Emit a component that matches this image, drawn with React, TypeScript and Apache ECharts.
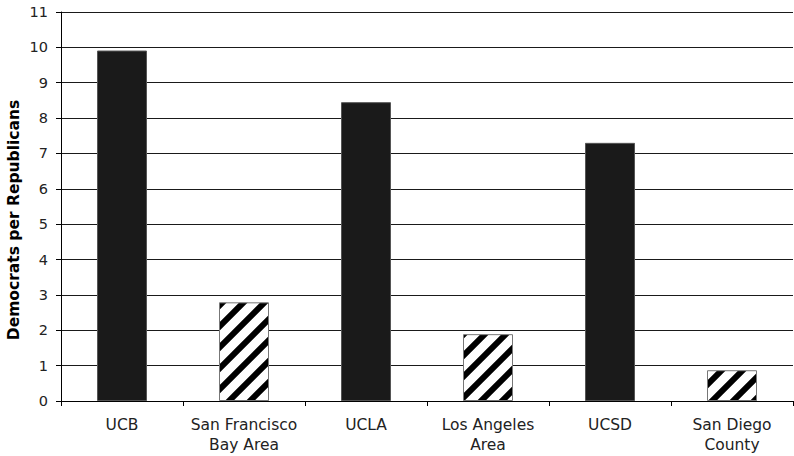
import React, { useEffect, useRef } from "react";
import * as echarts from "echarts";

const categories = [
  "UCB",
  "San Francisco\nBay Area",
  "UCLA",
  "Los Angeles\nArea",
  "UCSD",
  "San Diego\nCounty",
];
const values = [9.91, 2.79, 8.45, 1.89, 7.3, 0.87];
const hatched = [false, true, false, true, false, true];
const yTicks = { min: 0, max: 11, interval: 1 };
const yTitle = "Democrats per Republicans";

const T = 21;
const stripeSvg =
  `<svg xmlns="http://www.w3.org/2000/svg" width="${T}" height="${T}">` +
  `<rect width="${T}" height="${T}" fill="#ffffff"/>` +
  `<path d="M-6,6 L6,-6 M0,${T} L${T},0 M${T - 6},${T + 6} L${T + 6},${T - 6}" stroke="#000" stroke-width="6"/>` +
  `</svg>`;
const stripeUrl = "data:image/svg+xml;charset=utf-8," + encodeURIComponent(stripeSvg);

export default function App() {
  const ref = useRef<HTMLDivElement>(null);
  useEffect(() => {
    if (!ref.current) return;
    const chart = echarts.init(ref.current, null, { renderer: "svg" });
    const font = "DejaVu Sans, Verdana, sans-serif";
    chart.setOption({
      animation: false,
      backgroundColor: "#ffffff",
      grid: { left: 61, right: 1, top: 12, bottom: 55, containLabel: false },
      xAxis: {
        type: "category",
        data: categories,
        axisLine: { show: true, lineStyle: { color: "#000", width: 1 } },
        axisTick: { show: true, alignWithLabel: false, length: 5, lineStyle: { color: "#000" } },
        axisLabel: {
          color: "#222",
          fontFamily: font,
          fontSize: 15.5,
          lineHeight: 20,
          margin: 14,
          interval: 0,
        },
        splitLine: { show: false },
      },
      yAxis: {
        type: "value",
        min: yTicks.min,
        max: yTicks.max,
        interval: yTicks.interval,
        axisLine: { show: true, lineStyle: { color: "#000", width: 1 } },
        axisTick: { show: true, length: 5, lineStyle: { color: "#000" } },
        axisLabel: { color: "#222", fontFamily: font, fontSize: 14.5, margin: 13 },
        splitLine: { show: true, lineStyle: { color: "#1a1a1a", width: 1.2 } },
      },
      graphic: [
        {
          type: "text",
          x: 14,
          y: 220,
          rotation: Math.PI / 2,
          style: {
            text: yTitle,
            fontFamily: font,
            fontSize: 15.5,
            fontWeight: "bold",
            fill: "#000",
            align: "center",
            verticalAlign: "middle",
          },
        },
      ],
      series: [
        {
          type: "bar",
          barWidth: 50,
          data: values.map((v, i) => ({
            value: v,
            itemStyle: hatched[i]
              ? {
                  color: { image: stripeUrl, repeat: "repeat", imageWidth: T, imageHeight: T },
                  borderColor: "#777",
                  borderWidth: 1,
                }
              : { color: "#1a1a1a", borderColor: "#555", borderWidth: 1 },
          })),
        },
      ],
    });
    return () => chart.dispose();
  }, []);
  return <div ref={ref} style={{ width: 794, height: 456, position: "absolute", left: 0, top: 0 }} />;
}
